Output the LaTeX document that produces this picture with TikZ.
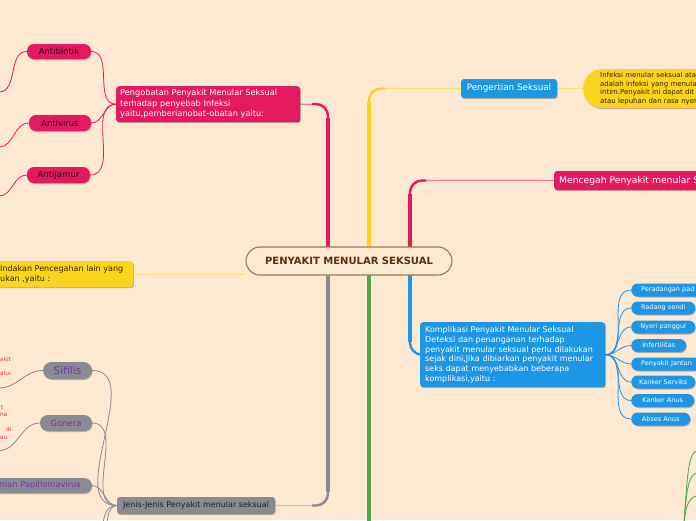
\documentclass[tikz,border=0pt]{standalone}
\usepackage{fontspec}
\setmainfont{DejaVu Sans}
\usetikzlibrary{shadows}
\definecolor{bg}{RGB}{253,232,210}
\definecolor{mag}{RGB}{229,25,93}
\definecolor{magl}{RGB}{240,125,160}
\definecolor{blu}{RGB}{30,150,230}
\definecolor{yel}{RGB}{250,212,30}
\definecolor{yell}{RGB}{250,222,110}
\definecolor{gry}{RGB}{138,138,146}
\definecolor{gryl}{RGB}{200,200,200}
\definecolor{grn}{RGB}{76,168,74}
\definecolor{brn}{RGB}{160,120,80}
\definecolor{brt}{RGB}{90,50,15}
\definecolor{pur}{RGB}{120,50,170}
\definecolor{redt}{RGB}{214,56,90}
\definecolor{dk}{RGB}{40,10,20}
\definecolor{ydk}{RGB}{50,35,0}
\definecolor{dktwo}{RGB}{30,30,30}
\newcommand\fz[2]{\fontsize{#1}{#2}\selectfont}
\pgfdeclarelayer{bgl}
\pgfdeclarelayer{lines}
\pgfsetlayers{bgl,lines,main}
\begin{document}
\begin{tikzpicture}[x=1pt,y=-1pt,
  shd/.style={drop shadow={shadow xshift=0.7pt,shadow yshift=-1pt,opacity=0.25,fill=black}},
  box/.style={shd, rounded corners=3pt, inner ysep=0pt, inner xsep=4pt},
  pillbox/.style={box, rounded corners=7pt, align=center},
  kid/.style={pillbox, fill=blu, text=white, anchor=west, minimum height=13pt, rounded corners=6.5pt, font=\fz{6.5}{8}, inner xsep=0pt},
  frag/.style={text=redt, font=\fz{5.8}{6}, inner sep=0pt, anchor=west},
  thinc/.style={line width=0.8pt},
  trunk/.style={line width=3.8pt},
  bendc/.style={line width=2.4pt, rounded corners=12pt},
  tail/.style={line width=1.3pt, rounded corners=12pt}]
\useasboundingbox (0,0) rectangle (696,520);
\begin{pgfonlayer}{bgl}
\fill[bg] (0,0) rectangle (696,520);
\end{pgfonlayer}

% central topic
\node[draw=brn, line width=1.1pt, fill=bg, rounded corners=14pt, minimum width=206pt, minimum height=28pt, inner sep=0pt, font=\fz{10}{12}\bfseries, text=brt] (c) at (349,261) {PENYAKIT MENULAR SEKSUAL};

% top-left branch
\node[box, fill=mag, text=white, anchor=north west, minimum height=36pt, text width=176pt, align=left, font=\fz{8.2}{10.5}] (pg) at (116,86) {Pengobatan Penyakit Menular Seksual\\terhadap penyebab Infeksi\\yaitu,pemberianobat-obatan yaitu:};
\node[pillbox, fill=mag, text=dk, minimum width=64pt, minimum height=15pt, font=\fz{8.5}{10}] (ab) at (59,51.5) {Antibiotik};
\node[pillbox, fill=mag, text=dk, minimum width=62pt, minimum height=16pt, font=\fz{8.5}{10}] (av) at (60,123) {Antivirus};
\node[pillbox, fill=mag, text=dk, minimum width=63pt, minimum height=16pt, font=\fz{8.5}{10}] (aj) at (58.5,175) {Antijamur};

% top-right
\node[box, fill=blu, text=white, minimum width=96pt, minimum height=19pt, font=\fz{8.8}{10}] (pe) at (509,88.5) {Pengertian Seksual};
\node[box, fill=yel, text=ydk, rounded corners=19pt, anchor=north west, minimum height=39pt, inner xsep=17pt, text width=130pt, align=left, font=\fz{6.95}{8.6}] (df) at (583,69) {Infeksi menular seksual ata\\adalah infeksi yang menula\\intim.Penyakit ini dapat dit\\atau lepuhan dan rasa nyer};
\node[box, fill=mag, text=white, anchor=west, minimum height=19pt, inner xsep=5pt, text width=160pt, align=left, font=\fz{9.2}{10}] (mc) at (554,180.5) {\mbox{Mencegah Penyakit menular Se}};

% complications
\node[box, fill=blu, text=white, anchor=north west, minimum height=65pt, inner xsep=5pt, text width=175pt, align=left, font=\fz{8}{9.7}] (kp) at (420,322) {Komplikasi Penyakit Menular Seksual\\Deteksi dan penanganan terhadap\\penyakit menular seksual perlu dilakukan\\sejak dini,Jika dibiarkan penyakit menular\\seks dapat menyebabkan beberapa\\komplikasi,yaitu :};
\node[kid, inner xsep=10pt, text width=70pt, align=left] (k1) at (631,290) {\mbox{Peradangan pad}};
\node[kid, minimum width=64pt] (k2) at (631,308) {Radang sendi};
\node[kid, minimum width=64pt] (k3) at (631,327) {Nyeri panggul};
\node[kid, minimum width=55pt] (k4) at (631,345.5) {Infertilitas};
\node[kid, inner xsep=10pt, text width=70pt, align=left] (k5) at (631,364) {\mbox{Penyakit Jantun}};
\node[kid, minimum width=64pt] (k6) at (631,382) {Kanker Serviks};
\node[kid, minimum width=63pt] (k7) at (631,400.5) {Kanker Anus};
\node[kid, minimum width=59pt] (k8) at (631,419) {Abses Anus};

% left yellow
\node[box, fill=yel, text=ydk, anchor=north west, minimum height=26pt, inner xsep=8pt, text width=125pt, align=left, font=\fz{8}{9.2}] (td) at (-8,261) {\mbox{Indakan Pencegahan lain yang}\\ukan ,yaitu :};

% bottom-left
\node[box, fill=gry, text=dktwo, minimum width=158pt, minimum height=17pt, font=\fz{8}{10}] (jn) at (196,505.5) {Jenis-Jenis Penyakit menular seksual};
\node[pillbox, fill=gry, text=pur, minimum width=49pt, minimum height=17pt, rounded corners=8.5pt, font=\fz{10.5}{12}] (sf) at (67.5,370.5) {Sifilis};
\node[pillbox, fill=gry, text=pur, minimum width=52pt, minimum height=16pt, rounded corners=8pt, font=\fz{8.5}{10}] (gn) at (66,423) {Gonera};
\node[box, fill=gry, text=pur, rounded corners=7.5pt, anchor=east, minimum height=15pt, inner xsep=11pt, text width=95pt, align=right, font=\fz{8.3}{10}] (hp) at (92,485.5) {man Papillomavirus};

\node[frag] (r1) at (0,359) {akit};
\node[frag] (r2) at (0,373.5) {alui};
\node[frag] (r3) at (1,407) {t};
\node[frag] (r4) at (0,415) {na};
\node[frag] (r5) at (6,429) {di};
\node[frag] (r6) at (0,437.5) {au};

\begin{pgfonlayer}{lines}
\coordinate (t1) at (328,250);
\coordinate (t2) at (369,250);
\coordinate (t3) at (410,250);
\coordinate (b1) at (328,272);
\coordinate (b2) at (369,272);
\coordinate (b3) at (410,272);
\coordinate (gend) at (369,525);
\coordinate (e1) at (312,104);
\coordinate (e2) at (385,88.5);
\coordinate (e3) at (426,180.5);
\coordinate (e4) at (312,505.5);
% upper trunks
\draw[magl, tail] (t1) |- (pg.east);
\draw[mag, bendc] (t1) |- (e1);
\draw[mag, trunk] (t1) -- (328,118);
\draw[yell, tail] (t2) |- (pe.west);
\draw[yel, bendc] (t2) |- (e2);
\draw[yel, trunk] (t2) -- (369,102);
\draw[magl, tail] (t3) |- (mc.west);
\draw[mag, bendc] (t3) |- (e3);
\draw[mag, trunk] (t3) -- (410,194);
% lower trunks
\draw[gryl, tail] (b1) |- (jn.east);
\draw[gry, bendc] (b1) |- (e4);
\draw[gry, trunk] (b1) -- (328,492);
\draw[grn, trunk] (b2) -- (gend);
\draw[blu, bendc] (b3) |- (kp.west);
\draw[blu, trunk] (b3) -- (410,342);
% left yellow
\draw[yell, line width=1.1pt] (td.east) -- (td.east -| c.west);
\draw[yell, line width=1.1pt] (pe.east) -- (df.west);
% pengobatan children
\foreach \k in {ab,av,aj} \draw[mag, thinc] (pg.west) to[out=180,in=0] (\k.east);
\coordinate (la) at (-1,92);
\coordinate (lb) at (-1,147);
\coordinate (lc) at (-1,196);
\draw[mag, thinc] (ab.west) to[out=180,in=0] (la);
\draw[mag, thinc] (av.west) to[out=180,in=0] (lb);
\draw[mag, thinc] (aj.west) to[out=180,in=0] (lc);
% complications children
\foreach \k in {k1,k2,k3,k4,k5,k6,k7,k8} \draw[blu, thinc] (kp.east) to[out=0,in=180] (\k.west);
% jenis children
\foreach \k in {sf,gn,hp} \draw[gry, thinc] (jn.west) to[out=180,in=0] (\k.east);
\coordinate (ls1) at (-1,388);
\coordinate (ls2) at (-1,450.5);
\draw[gry, thinc] (sf.west) to[out=180,in=0] (ls1);
\draw[gry, thinc] (gn.west) to[out=180,in=0] (ls2);
\coordinate (d1) at (103,523);
\coordinate (d2) at (107,523);
\draw[gry, thinc] (jn.west) .. controls (108,505.5) and (105,512) .. (d1);
\draw[gry, thinc] (jn.west) .. controls (111,505.5) and (108,512) .. (d2);
% green children at bottom right
\coordinate (g0) at (684,524);
\coordinate (g1) at (697,451);
\coordinate (g2) at (697,473);
\coordinate (g3) at (697,496);
\draw[grn, thinc] (g0) .. controls (687,480) and (688,452) .. (g1);
\draw[grn, thinc] (g0) .. controls (686,495) and (688,474) .. (g2);
\draw[grn, thinc] (g0) .. controls (685,510) and (688,497) .. (g3);
\end{pgfonlayer}
\end{tikzpicture}
\end{document}
